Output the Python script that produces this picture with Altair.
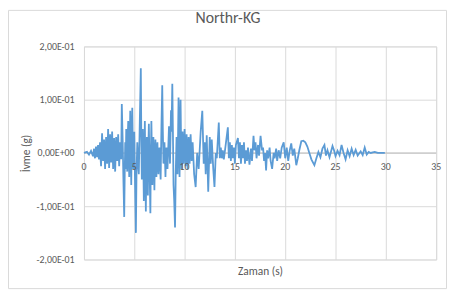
import json
import altair as alt
import pandas as pd

# acceleration record (time in s, acceleration in g)
times = [0.0, 0.3, 0.5, 0.7, 0.9,
         1.0, 1.05, 1.1, 1.15, 1.2, 1.25, 1.3, 1.35, 1.4, 1.45, 1.5, 1.55, 1.6, 1.65,
         1.7, 1.75, 1.8, 1.85, 1.9, 1.95, 2.0, 2.05, 2.1, 2.15, 2.2, 2.25, 2.3, 2.35,
         2.4, 2.45, 2.5, 2.55, 2.6, 2.65, 2.7, 2.75, 2.8, 2.85, 2.9, 2.95, 3.0, 3.05,
         3.1, 3.15, 3.2, 3.25, 3.3, 3.35, 3.4, 3.45, 3.5, 3.55, 3.6, 3.65, 3.7, 3.76,
         3.85, 3.92,
         4.0, 4.05, 4.1, 4.15, 4.2, 4.25, 4.3, 4.35, 4.4, 4.45, 4.5, 4.55, 4.6, 4.65,
         4.7, 4.75, 4.8, 4.85, 4.9, 4.95, 5.0, 5.08, 5.16, 5.22, 5.3, 5.38, 5.45, 5.55,
         5.65, 5.7, 5.75, 5.8, 5.85, 5.9, 5.95, 6.0, 6.05, 6.1, 6.15, 6.2, 6.25, 6.3,
         6.35, 6.4, 6.45, 6.52, 6.6, 6.65, 6.7, 6.75, 6.8, 6.85, 6.9, 6.95, 7.0, 7.05,
         7.1, 7.15, 7.2, 7.25, 7.3, 7.35, 7.4, 7.45, 7.5, 7.56, 7.62, 7.7, 7.78, 7.84,
         7.9, 7.95, 8.0, 8.05, 8.1, 8.15, 8.2, 8.25, 8.3, 8.38, 8.45, 8.5, 8.55, 8.6,
         8.65, 8.7, 8.78, 8.84, 8.9, 8.97, 9.05, 9.12, 9.2, 9.25, 9.3, 9.35, 9.4, 9.45,
         9.5, 9.55, 9.6, 9.65, 9.7, 9.75, 9.8, 9.85, 9.9, 9.95,
         10.0, 10.1, 10.2, 10.3, 10.4, 10.5, 10.6, 10.7, 10.8, 10.95, 11.1,
         11.25, 11.4, 11.6, 11.76, 11.9, 12.0, 12.1, 12.2, 12.35, 12.5, 12.6, 12.7,
         12.85, 12.97, 13.1, 13.2, 13.4, 13.5, 13.6, 13.7, 13.8, 13.9, 14.05, 14.3,
         14.4, 14.5, 14.6, 14.7, 14.8, 14.9, 15.0, 15.1, 15.3, 15.4, 15.5, 15.6, 15.7,
         15.8, 15.9, 16.0, 16.1, 16.2, 16.3, 16.45, 16.6, 16.7, 16.85, 16.95, 17.05,
         17.15, 17.3, 17.4, 17.55, 17.7, 17.8, 17.9, 18.0, 18.1, 18.2, 18.3, 18.45,
         18.55, 18.7, 18.85, 18.95, 19.1, 19.2, 19.35, 19.5, 19.65, 19.85, 20.0,
         20.15, 20.3, 20.45, 20.6, 20.75, 20.9, 21.1, 21.25, 21.4, 21.6, 21.8, 22.0,
         22.2, 22.4, 22.6, 22.9, 23.1, 23.3, 23.5, 23.7, 23.9, 24.05, 24.2, 24.4,
         24.7, 24.85, 25.0, 25.2, 25.4, 25.6, 25.8, 26.0, 26.2, 26.4, 26.6, 26.8,
         27.0, 27.2, 27.5, 27.7, 27.9, 28.1, 28.3, 28.5, 28.7, 28.9, 29.2, 29.5, 29.9]

accel = [0.0, 0.002, -0.003, 0.004, -0.006,
         0.008, -0.005, -0.010, 0.005, 0.012, 0.0, -0.008, 0.005, 0.015, -0.005,
         -0.012, 0.010, 0.020, -0.010, -0.025, 0.010, 0.037, 0.010, -0.015, 0.005,
         0.025, -0.005, -0.030, 0.0, 0.030, 0.005, -0.020, 0.010, 0.045, 0.010,
         -0.028, 0.0, 0.035, 0.0, -0.018, 0.015, 0.040, 0.0, -0.030, 0.005, 0.028,
         -0.010, -0.035, 0.0, 0.030, 0.0, -0.015, 0.010, 0.035, 0.0, -0.025, 0.0,
         0.020, -0.010, -0.010, 0.092, 0.020, -0.050,
         -0.120, -0.040, 0.020, -0.030, 0.045, -0.010, -0.035, 0.030, 0.060, 0.0,
         -0.045, 0.020, 0.079, 0.010, -0.060, 0.030, 0.085, 0.020, -0.030, 0.010,
         0.040, -0.060, -0.150, -0.040, 0.020, -0.020, -0.040, 0.060, 0.159, 0.030,
         -0.050, 0.010, 0.045, -0.020, -0.090, -0.010, 0.060, -0.030, -0.110, -0.020,
         0.030, -0.020, -0.080, 0.010, 0.055, -0.030, -0.113, 0.0, 0.060, 0.0,
         -0.060, 0.0, 0.030, -0.020, -0.070, -0.010, 0.025, -0.010, -0.045, 0.0,
         0.020, -0.020, -0.040, 0.0, 0.010, -0.020, -0.050, 0.050, 0.127, 0.040,
         -0.020, 0.0, 0.020, -0.010, -0.045, -0.010, 0.010, -0.010, -0.030, 0.010,
         0.050, 0.010, -0.020, 0.030, 0.080, 0.040, 0.130, 0.040, -0.060, -0.090,
         -0.140, -0.040, 0.030, -0.010, -0.040, 0.030, 0.104, 0.020, -0.045, 0.030,
         0.100, 0.020, -0.030, 0.0, 0.040, 0.0, -0.020, 0.010,
         0.045, -0.025, 0.035, -0.030, 0.030, -0.020, 0.035, -0.015, 0.020, -0.040,
         -0.064, 0.000, -0.030, 0.040, 0.079, -0.020, 0.020, -0.040, 0.033, -0.073,
         0.030, -0.020, 0.025, -0.030, -0.064, 0.000, -0.010, 0.057, -0.010, 0.010,
         -0.010, 0.005, -0.012, 0.010, 0.048, -0.010, 0.020, -0.015, 0.015, -0.010,
         0.010, -0.020, 0.015, 0.028, -0.010, 0.020, -0.020, 0.015, -0.010, 0.020,
         -0.020, 0.005, -0.015, 0.010, -0.022, 0.008, -0.015, 0.032, 0.005, 0.020,
         -0.010, 0.015, -0.005, 0.032, 0.005, 0.010, -0.015, 0.000, -0.033, 0.005,
         -0.010, 0.010, -0.015, -0.030, 0.000, -0.010, 0.008, -0.015, 0.005, -0.010,
         0.010, 0.020, -0.010, 0.010, -0.015, 0.005, 0.018, -0.005, 0.008, -0.023,
         -0.010, 0.005, 0.022, 0.023, 0.020, 0.012, 0.000, -0.012, -0.023, -0.010,
         0.002, -0.008, 0.008, 0.015, -0.005, 0.005, -0.008, 0.013, 0.005, -0.006,
         0.004, -0.004, 0.015, 0.000, -0.012, 0.005, -0.006, 0.008, -0.004, 0.006,
         -0.005, 0.003, -0.004, 0.010, -0.003, 0.002, 0.000, 0.001, 0.002, 0.000,
         0.000, 0.000]

x_ticks = [0, 5, 10, 15, 20, 25, 30, 35]
x_tick_labels = ["0", "5", "10", "15", "20", "25", "30", "35"]
y_ticks = [-0.2, -0.15, -0.1, -0.05, 0.0, 0.05, 0.1, 0.15, 0.2]
y_tick_labels = ["-2,00E-01", "-1,50E-01", "-1,00E-01", "-5,00E-02", "0,00E+00",
                 "5,00E-02", "1,00E-01", "1,50E-01", "2,00E-01"]
chart_title = "Northr-KG"

FONT = "Carlito, Liberation Sans, Arial"
GRAY = "#595959"
W, H = 357, 216

df = pd.DataFrame({"t": times, "a": accel})
ticks_df = pd.DataFrame({"t": x_ticks, "lab": x_tick_labels, "a": [0.0] * len(x_ticks)})

label_expr = json.dumps(y_tick_labels) + "[round((datum.value + 0.2) / 0.05)]"

xscale = alt.Scale(domain=[0, 35], nice=False)
yscale = alt.Scale(domain=[-0.2, 0.2], nice=False)

line = alt.Chart(df).mark_line(color="#5B9BD5", strokeWidth=1.8).encode(
    x=alt.X("t:Q", scale=xscale,
            axis=alt.Axis(values=x_ticks, labels=False, ticks=False, domain=False,
                          grid=True, gridColor="#D9D9D9", title="Zaman (s)",
                          titleX=W / 2, titleY=12, titleBaseline="middle",
                          titleFont=FONT, titleFontSize=11.5, titleFontWeight="normal",
                          titleColor=GRAY)),
    y=alt.Y("a:Q", scale=yscale,
            axis=alt.Axis(values=y_ticks, labelExpr=label_expr, ticks=False,
                          domain=False, grid=True, gridColor="#D9D9D9",
                          labelFont=FONT, labelFontSize=10, labelColor=GRAY,
                          labelPadding=10, title="İvme (g)", titleAngle=270,
                          titleX=-58, titleY=H / 2, titleAlign="center",
                          titleBaseline="middle", titleFont=FONT, titleFontSize=11.5,
                          titleFontWeight="normal", titleColor=GRAY)),
)

zero_rule = alt.Chart(ticks_df).mark_rule(color="#BFBFBF", strokeWidth=1).encode(
    y=alt.Y("mean(a):Q", scale=yscale),
)

tick_text = alt.Chart(ticks_df).mark_text(
    font=FONT, fontSize=10, color=GRAY, baseline="middle", align="center", dy=14
).encode(
    x=alt.X("t:Q", scale=xscale),
    y=alt.Y("a:Q", scale=yscale),
    text="lab:N",
)

title_text = alt.Chart(pd.DataFrame({"s": [chart_title]})).mark_text(
    font=FONT, fontSize=16, color=GRAY, baseline="middle", align="center"
).encode(
    x=alt.value(146), y=alt.value(-29), text="s:N",
)

border = alt.Chart(pd.DataFrame({"k": [0]})).mark_rect(
    fill=None, stroke="#D9D9D9", strokeWidth=1
).encode(
    x=alt.value(-76.5), x2=alt.value(W + 10.5),
    y=alt.value(-36.5), y2=alt.value(H + 29.5),
)

chart = alt.layer(border, zero_rule, line, tick_text, title_text).properties(
    width=W, height=H,
    autosize=alt.AutoSizeParams(type="none"),
    padding={"left": 77, "top": 37, "right": 11, "bottom": 30},
).configure_view(stroke=None).configure(background="white")

chart.save("out.html", embed_options={"renderer": "svg", "actions": False})
